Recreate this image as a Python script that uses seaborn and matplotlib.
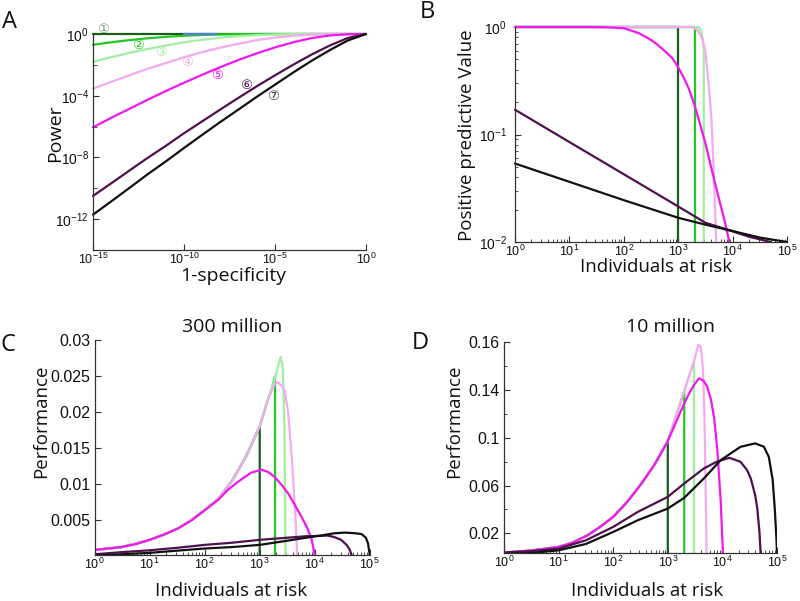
import numpy as np
import pandas as pd
import matplotlib
matplotlib.use("Agg")
import matplotlib.pyplot as plt
from matplotlib.ticker import FixedLocator, FixedFormatter, LogLocator, NullFormatter
import seaborn as sns

# ---------------- data ----------------
curve_order = ["1", "2", "3", "4", "5", "6", "7"]
curve_colors = {"1": "#1b5e1b", "2": "#25c725", "3": "#a3eea3", "4": "#f5aaf0",
                "5": "#ef18ef", "6": "#4e104e", "7": "#111111", "blue": "#4f7fd6"}

# Panel A : power vs 1-specificity
a_fpr = [1e-15, 1e-14, 1e-13, 1e-12, 1e-11, 1e-10, 1e-9, 1e-8,
         1e-7, 1e-6, 1e-5, 1e-4, 1e-3, 1e-2, 1e-1, 1e0]
a_power = {
    "1": [1, 1, 1, 1, 1, 1, 1, 1, 1, 1, 1, 1, 1, 1, 1, 1],
    "2": [0.200, 0.291, 0.401, 0.528, 0.652, 0.770, 0.864, 0.932,
          0.971, 0.9906, 0.998, 1, 1, 1, 1, 1],
    "3": [0.0158, 0.0316, 0.060, 0.107, 0.178, 0.29, 0.42, 0.575,
          0.726, 0.853, 0.937, 0.981, 0.997, 1, 1, 1],
    "4": [2.9e-4, 7.9e-4, 2.1e-3, 5.6e-3, 0.013, 0.031, 0.067, 0.132,
          0.234, 0.40, 0.59, 0.78, 0.92, 0.985, 1, 1],
    "5": [8.9e-7, 3.7e-6, 1.41e-5, 5.5e-5, 2.0e-4, 6.9e-4, 2.3e-3, 7.2e-3,
          0.021, 0.056, 0.135, 0.29, 0.54, 0.80, 0.97, 1],
    "6": [3.2e-11, 2.1e-10, 1.41e-9, 9.3e-9, 5.6e-8, 3.7e-7, 2.2e-6, 1.29e-5,
          7.4e-5, 4.1e-4, 2.1e-3, 0.0102, 0.046, 0.178, 0.55, 1],
    "7": [1.95e-12, 1.41e-11, 1.05e-10, 8.1e-10, 5.5e-9, 4.1e-8, 2.9e-7, 2.0e-6,
          1.29e-5, 8.5e-5, 5.2e-4, 3.2e-3, 0.018, 0.089, 0.38, 1],
}
a_blue_fpr = [1e-10, 6e-9]
a_blue_power = [1, 1]
a_label_fpr = [3.5e-15, 3.0e-13, 5.4e-12, 1.45e-10, 6.3e-9, 2.45e-7, 7.4e-6]
a_label_power = [2.1, 0.17, 0.059, 0.0135, 1.95e-3, 4.5e-4, 8.7e-5]
a_label_text = ["\u2460", "\u2461", "\u2462", "\u2463", "\u2464", "\u2465", "\u2466"]
a_label_colors = ["#7a9a7a", "#25c725", "#a3eea3", "#f5aaf0", "#ef18ef", "#4e104e", "#333333"]

# Panel B : positive predictive value vs individuals at risk
b_x = {
    "1": [1, 1000, 1000],
    "2": [1, 2000, 2000],
    "3": [1, 2400, 2570, 2820, 2950, 2950],
    "4": [1, 1580, 1900, 2240, 2750, 3160, 3630, 4070, 4470, 5010],
    "5": [1, 20, 46, 100, 186, 282, 380, 562, 776, 977, 1260, 1550, 2000, 2510,
          3160, 3980, 4790, 6030, 7410, 8710],
    "6": [1, 10, 100, 1000, 3160, 8510, 19950, 50100],
    "7": [1, 10, 100, 1000, 3160, 8510, 31600, 100000],
}
b_ppv = {
    "1": [1.0, 1.0, 0.01],
    "2": [1.0, 1.0, 0.01],
    "3": [1.0, 1.0, 0.944, 0.79, 0.59, 0.01],
    "4": [1.0, 1.0, 0.985, 0.944, 0.79, 0.594, 0.291, 0.143, 0.049, 0.01],
    "5": [1.0, 1.0, 0.995, 0.975, 0.88, 0.785, 0.71, 0.60, 0.515, 0.431, 0.339, 0.271,
          0.187, 0.126, 0.083, 0.051, 0.0347, 0.0219, 0.0145, 0.01],
    "6": [0.170, 0.0851, 0.0427, 0.0214, 0.0151, 0.0129, 0.0112, 0.0100],
    "7": [0.0537, 0.0363, 0.0245, 0.0168, 0.0145, 0.0129, 0.0110, 0.0100],
}

# Panel C : performance, 300 million
c_env_x = [1, 3.16, 10, 17.8, 31.6, 56.2, 100, 178, 316, 562, 1000]
c_env_y = [0.0009, 0.0013, 0.0023, 0.0030, 0.0038, 0.0050, 0.0064, 0.0080, 0.0105, 0.0138, 0.0180]
c_x = {
    "1": c_env_x + [1000],
    "2": c_env_x + [1410, 1660, 1900, 1900],
    "3": c_env_x + [1410, 1860, 2140, 2400, 2630, 2820, 2950],
    "4": c_env_x + [1410, 1860, 2140, 2510, 2820, 3310, 3890, 4470, 4790],
    "5": [1, 3.0, 5.6, 10, 17.8, 33, 58, 100, 174, 263, 398, 537, 708, 977, 1070, 1410,
          1860, 2510, 3310, 4370, 5750, 7240, 8710, 9770, 10000],
    "6": [1, 3.16, 10, 31.6, 100, 316, 1000, 3310, 7080, 13200, 16600, 22400, 30200,
          38000, 43600, 46800],
    "7": [1, 3.16, 10, 31.6, 100, 316, 1000, 3310, 7080, 13200, 22400, 35500, 56200,
          70800, 85100, 93300, 100000],
}
c_perf = {
    "1": c_env_y + [0.0002],
    "2": c_env_y + [0.0217, 0.0232, 0.0249, 0.0002],
    "3": c_env_y + [0.0217, 0.0244, 0.0263, 0.0276, 0.0263, 0.0175, 0.0002],
    "4": c_env_y + [0.0217, 0.0238, 0.0241, 0.0236, 0.0230, 0.0198, 0.0129, 0.0055, 0.0002],
    "5": [0.0009, 0.0013, 0.0017, 0.0023, 0.0030, 0.0039, 0.0050, 0.0064, 0.0078, 0.0092,
          0.0103, 0.0110, 0.0116, 0.0119, 0.0120, 0.0117, 0.0110, 0.0099, 0.0087, 0.0071,
          0.0055, 0.0040, 0.0025, 0.0006, 0.0002],
    "6": [0.0003, 0.0006, 0.00085, 0.0012, 0.0016, 0.0019, 0.0023, 0.0026, 0.0028,
          0.00285, 0.0029, 0.0027, 0.0023, 0.0016, 0.0009, 0.0002],
    "7": [0.0001, 0.0003, 0.0005, 0.0008, 0.0011, 0.0013, 0.0016, 0.0022, 0.0026, 0.0029,
          0.0032, 0.0033, 0.0032, 0.0031, 0.0026, 0.0018, 0.0002],
}

# Panel D : performance, 10 million
d_env_x = [1, 3.16, 10, 17.8, 33.9, 56.2, 100, 178, 282, 398, 562, 794, 1000]
d_env_y = [0.0038, 0.0055, 0.0085, 0.012, 0.0183, 0.025, 0.0337, 0.046, 0.0575, 0.067,
           0.077, 0.089, 0.0972]
d_x = {
    "1": d_env_x + [1000],
    "2": d_env_x + [1410, 2000, 2000],
    "3": d_env_x + [1410, 2000, 2510, 3020, 3020],
    "4": d_env_x + [1410, 2000, 2510, 3020, 3390, 3630, 3980, 4270, 4470, 4680, 4840,
                    5010, 5130],
    "5": d_env_x + [1410, 2000, 2510, 3020, 3720, 4470, 5250, 6170, 7080, 8130, 9330, 10230],
    "6": [1, 3.16, 10, 31.6, 100, 282, 1000, 2000, 4570, 7940, 13500, 21400, 28200,
          33100, 39800, 43600, 47900, 50100],
    "7": [1, 3.16, 10, 31.6, 100, 282, 1000, 2000, 4570, 9330, 21400, 39800, 57500,
          70800, 83200, 91200, 97700, 100000],
}
d_perf = {
    "1": d_env_y + [0.003],
    "2": d_env_y + [0.118, 0.139, 0.003],
    "3": d_env_y + [0.118, 0.139, 0.153, 0.164, 0.003],
    "4": d_env_y + [0.118, 0.139, 0.153, 0.164, 0.173, 0.1778, 0.1765, 0.165, 0.150, 0.120,
                    0.080, 0.040, 0.003],
    "5": d_env_y + [0.113, 0.1288, 0.138, 0.1442, 0.1498, 0.148, 0.143, 0.132, 0.1162,
                    0.0883, 0.0463, 0.003],
    "6": [0.0038, 0.0050, 0.0071, 0.0141, 0.0253, 0.0379, 0.0505, 0.0617, 0.0743, 0.080,
          0.0832, 0.0799, 0.073, 0.0659, 0.052, 0.0407, 0.020, 0.003],
    "7": [0.0024, 0.0035, 0.0057, 0.011, 0.0211, 0.0309, 0.0407, 0.0497, 0.0659, 0.0813,
          0.0924, 0.0953, 0.0925, 0.084, 0.065, 0.040, 0.015, 0.003],
}

log_ticks = [1, 10, 100, 1000, 10000, 100000]
log_tick_labels = ["0", "1", "2", "3", "4", "5"]
c_yticks = [0.005, 0.01, 0.015, 0.02, 0.025, 0.03]
c_yticklabels = ["0.005", "0.01", "0.015", "0.02", "0.025", "0.03"]
d_yticks = [0.02, 0.06, 0.10, 0.14, 0.18]
d_yticklabels = ["0.02", "0.06", "0.1", "0.14", "0.16"]

# ---------------- style ----------------
sns.set_theme(style="ticks")
LABEL_FONT = "Open Sans"
plt.rcParams["font.family"] = ["Liberation Sans", "DejaVu Sans"]
plt.rcParams["mathtext.fontset"] = "custom"
plt.rcParams["mathtext.rm"] = "Liberation Sans"
plt.rcParams["mathtext.it"] = "Liberation Sans:italic"
plt.rcParams["mathtext.bf"] = "Liberation Sans:bold"

W, H = 800, 601
fig = plt.figure(figsize=(W / 100, H / 100), dpi=100)


def rect(left, top, right, bottom):
    return [left / W, 1 - bottom / H, (right - left) / W, (bottom - top) / H]


def fpos(px, py):
    return px / W, 1 - py / H


def frame(xs, ys, order):
    rows = []
    for name in order:
        for x, y in zip(xs[name], ys[name]):
            rows.append({"curve": name, "x": x, "y": y})
    return pd.DataFrame(rows)


def draw(ax, df, order, clip=True, lw=1.6):
    sns.lineplot(data=df, x="x", y="y", hue="curve", hue_order=order,
                 palette={k: curve_colors[k] for k in order}, estimator=None,
                 sort=False, legend=False, lw=lw, ax=ax, clip_on=clip)


def style_axes(ax):
    sns.despine(ax=ax)
    for s in ("left", "bottom"):
        ax.spines[s].set_linewidth(0.9)
        ax.spines[s].set_color("#333333")
    ax.tick_params(which="both", direction="in", color="#333333", labelsize=10,
                   labelcolor="#111111", pad=3)
    ax.tick_params(axis="x", which="both", pad=1.0, labelsize=9)
    ax.tick_params(which="major", length=4, width=0.8)
    ax.tick_params(which="minor", length=2, width=0.6)


def labels(ax, xl, xpos, yl, ypos, size=13.5):
    ax.set_xlabel(xl, fontsize=size, fontfamily=LABEL_FONT, color="#111111")
    ax.xaxis.set_label_coords(*fpos(*xpos), transform=fig.transFigure)
    ax.xaxis.label.set_va("center")
    ax.xaxis.label.set_ha("center")
    ax.set_ylabel(yl, fontsize=size, fontfamily=LABEL_FONT, color="#111111")
    ax.yaxis.set_label_coords(*fpos(*ypos), transform=fig.transFigure)
    ax.yaxis.label.set_va("center")
    ax.yaxis.label.set_ha("center")


def log_x_axis(ax):
    ax.set_xscale("log")
    ax.set_xlim(1, 1e5)
    ax.xaxis.set_major_locator(FixedLocator(log_ticks))
    ax.xaxis.set_major_formatter(FixedFormatter(
        [r"$\mathregular{10^{%s}}$" % t for t in log_tick_labels]))
    ax.xaxis.set_minor_locator(LogLocator(base=10, subs=np.arange(2, 10), numticks=20))
    ax.xaxis.set_minor_formatter(NullFormatter())


def title_at(ax, text, px, py):
    x0, y0, w, h = ax.get_position().bounds
    fx, fy = fpos(px, py)
    ax.set_title(text, fontsize=14, fontfamily=LABEL_FONT, pad=0,
                 y=(fy - y0) / h, va="center", color="#111111")
    ax.title.set_x((fx - x0) / w)


# ---------------- Panel A ----------------
axA = fig.add_axes(rect(93, 34, 366, 250))
axA.set_xscale("log")
axA.set_yscale("log")
dfA = frame({k: a_fpr for k in curve_order}, a_power, curve_order)
orderA = ["1", "2", "blue", "3", "4", "5", "6", "7"]
dfA = pd.concat([dfA[dfA.curve.isin(["1", "2"])],
                 pd.DataFrame({"curve": "blue", "x": a_blue_fpr, "y": a_blue_power}),
                 dfA[~dfA.curve.isin(["1", "2"])]], ignore_index=True)
draw(axA, dfA, orderA, clip=False)
axA.set_xlim(1e-15, 1)
axA.set_ylim(1e-14, 1)
axA.xaxis.set_major_locator(FixedLocator([1e-15, 1e-10, 1e-5, 1e0]))
axA.xaxis.set_major_formatter(FixedFormatter(
    [r"$\mathregular{10^{-15}}$", r"$\mathregular{10^{-10}}$",
     r"$\mathregular{10^{-5}}$", r"$\mathregular{10^{0}}$"]))
axA.xaxis.set_minor_locator(FixedLocator([]))
axA.yaxis.set_major_locator(FixedLocator([1e-12, 1e-8, 1e-4, 1e0]))
axA.yaxis.set_major_formatter(FixedFormatter(
    [r"$\mathregular{10^{-12}}$", r"$\mathregular{10^{-8}}$",
     r"$\mathregular{10^{-4}}$", r"$\mathregular{10^{0}}$"]))
axA.yaxis.set_minor_locator(FixedLocator([1e-14, 1e-10, 1e-6, 1e-2]))
axA.yaxis.set_minor_formatter(NullFormatter())
style_axes(axA)
axA.tick_params(axis="y", which="minor", length=3)
for x, y, t, c in zip(a_label_fpr, a_label_power, a_label_text, a_label_colors):
    axA.text(x, y, t, color=c, fontsize=9.5, ha="center", va="center", clip_on=False,
             family=["DejaVu Sans", "Noto Sans CJK JP"])
labels(axA, "1-specificity", (233, 276), "Power", (55, 133), size=14)

# ---------------- Panel B ----------------
axB = fig.add_axes(rect(515, 27, 787, 242))
axB.set_yscale("log")
log_x_axis(axB)
draw(axB, frame(b_x, b_ppv, curve_order), curve_order, clip=False)
axB.set_xlim(1, 1e5)
axB.set_ylim(1e-2, 1)
axB.yaxis.set_major_locator(FixedLocator([1e-2, 1e-1, 1e0]))
axB.yaxis.set_major_formatter(FixedFormatter(
    [r"$\mathregular{10^{-2}}$", r"$\mathregular{10^{-1}}$", r"$\mathregular{10^{0}}$"]))
axB.yaxis.set_minor_locator(LogLocator(base=10, subs=np.arange(2, 10), numticks=10))
axB.yaxis.set_minor_formatter(NullFormatter())
style_axes(axB)
axB.tick_params(axis="y", which="both", pad=6)
labels(axB, "Individuals at risk", (656, 267), "Positive predictive Value", (467, 135))

# ---------------- Panel C ----------------
axC = fig.add_axes(rect(94.7, 339.6, 369.7, 555))
log_x_axis(axC)
draw(axC, frame(c_x, c_perf, curve_order), curve_order)
axC.set_xlim(1, 1e5)
axC.set_ylim(0.0002, 0.03)
axC.yaxis.set_major_locator(FixedLocator(c_yticks))
axC.yaxis.set_major_formatter(FixedFormatter(c_yticklabels))
style_axes(axC)
axC.tick_params(axis="y", labelsize=11.5)
labels(axC, "Individuals at risk", (231, 591), "Performance", (41, 421))
title_at(axC, "300 million", 232, 327)

# ---------------- Panel D ----------------
axD = fig.add_axes(rect(504, 342.3, 777, 553.3))
log_x_axis(axD)
draw(axD, frame(d_x, d_perf, curve_order), curve_order)
axD.set_xlim(1, 1e5)
axD.set_ylim(0.0032, 0.18)
axD.yaxis.set_major_locator(FixedLocator(d_yticks))
axD.yaxis.set_major_formatter(FixedFormatter(d_yticklabels))
axD.yaxis.set_minor_locator(FixedLocator([0.04, 0.08, 0.12, 0.16]))
style_axes(axD)
axD.tick_params(axis="y", labelsize=11.5)
labels(axD, "Individuals at risk", (647, 591), "Performance", (454, 421))
title_at(axD, "10 million", 670, 327)

# panel letters
for letter, (px, py) in zip("ABCD", [(10, 22), (427, 12), (8, 345), (420, 343)]):
    fig.text(*fpos(px, py), letter, fontsize=17, fontfamily=LABEL_FONT,
             ha="center", va="center", color="#111111")

fig.savefig("out.png", dpi=100)
